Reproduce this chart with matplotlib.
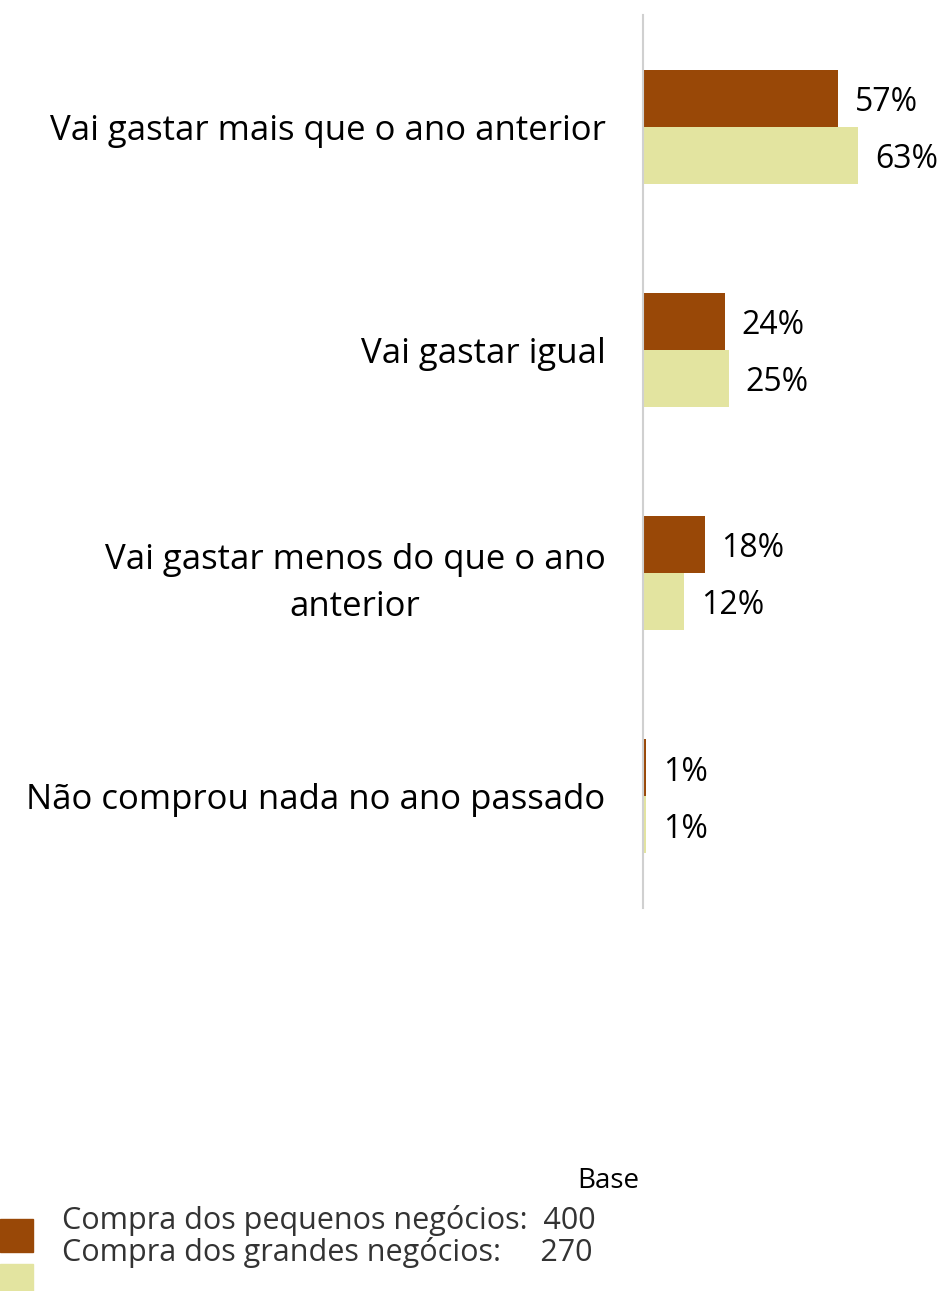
import matplotlib.pyplot as plt
from matplotlib.patches import Rectangle

categorias = ['Vai gastar mais que o ano anterior',
              'Vai gastar igual',
              'Vai gastar menos do que o ano\nanterior',
              'Não comprou nada no ano passado']
pequenos = [57, 24, 18, 1]
grandes = [63, 25, 12, 1]
series = ['Compra dos pequenos negócios:  400',
          'Compra dos grandes negócios:     270']

cor_pequenos = '#994807'
cor_grandes = '#E3E4A0'

plt.rcParams['font.family'] = ['Open Sans', 'DejaVu Sans']

W, H = 946, 1291
fig = plt.figure(figsize=(W / 100, H / 100), dpi=100)
ax = fig.add_axes([643 / W, (H - 908) / H, (W - 643) / W, 893 / H])

y = list(range(len(categorias)))
h = 0.2556
y1 = [v - h / 2 for v in y]
y2 = [v + h / 2 for v in y]
ax.barh(y1, pequenos, height=h, color=cor_pequenos)
ax.barh(y2, grandes, height=h, color=cor_grandes)

# rótulos de valor à direita das barras
for yy, v in list(zip(y1, pequenos)) + list(zip(y2, grandes)):
    ax.annotate(f'{v}%', (v, yy), xytext=(12, -3), textcoords='offset points',
                va='center', ha='left', fontsize=23)

ax.set_xlim(0, (W - 643) / 3.42)
ax.set_ylim(3.5, -0.5)
ax.set_yticks(y)
ax.set_yticklabels(categorias, fontsize=25)
for lab in ax.get_yticklabels():
    lab.set_horizontalalignment('right')
    lab.set_multialignment('center')
    lab.set_linespacing(1.5)
ax.tick_params(axis='y', length=0, pad=27)
ax.set_xticks([])
for s in ['top', 'right', 'bottom']:
    ax.spines[s].set_visible(False)
ax.spines['left'].set_color('#d0d0d0')
ax.spines['left'].set_linewidth(1.5)

# legenda com bases
fig.text(608 / W, 1 - 1181 / H, 'Base', ha='center', va='center', fontsize=20)
fig.patches.append(Rectangle((0, 1 - 1252 / H), 33 / W, 33 / H,
                             transform=fig.transFigure, color=cor_pequenos))
fig.patches.append(Rectangle((0, 1 - 1291 / H), 33 / W, 27 / H,
                             transform=fig.transFigure, color=cor_grandes))
fig.text(62 / W, 1 - 1220 / H, series[0], ha='left', va='center',
         fontsize=22, color='#333333')
fig.text(62 / W, 1 - 1252 / H, series[1], ha='left', va='center',
         fontsize=22, color='#333333')

fig.savefig('out.png', dpi=100)
